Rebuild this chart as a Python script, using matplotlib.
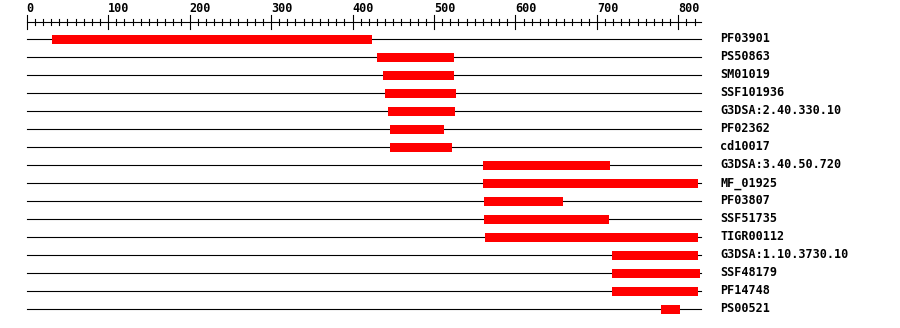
import matplotlib.pyplot as plt

# protein length and domain hits (residue positions)
seq_len = 828
names = ['PF03901', 'PS50863', 'SM01019', 'SSF101936', 'G3DSA:2.40.330.10',
         'PF02362', 'cd10017', 'G3DSA:3.40.50.720', 'MF_01925', 'PF03807',
         'SSF51735', 'TIGR00112', 'G3DSA:1.10.3730.10', 'SSF48179', 'PF14748',
         'PS00521']
starts = [31, 430, 437, 440, 444, 446, 446, 560, 560, 561, 561, 563, 719, 719, 719, 779]
ends = [424, 525, 525, 527, 526, 512, 522, 716, 824, 658, 715, 824, 824, 827, 824, 802]
major_ticks = list(range(0, 801, 100))
minor_ticks = list(range(0, 821, 10))

W, H = 900, 328
x0 = 26.7      # pixel of residue 0
scale = 0.8145  # pixels per residue

fig = plt.figure(figsize=(W / 100, H / 100), dpi=100)
ax = fig.add_axes([0, 0, 1, 1])
ax.set_xlim(-x0 / scale, (W - x0) / scale)
ax.set_ylim(H, 0)
ax.axis('off')

font = dict(family='DejaVu Sans Mono', fontweight='bold', fontsize=8.5)

# ruler
ax.plot([0, seq_len], [22, 22], color='black', lw=0.8)
for t in minor_ticks:
    if t in major_ticks:
        ax.plot([t, t], [15, 29], color='black', lw=0.8)
    else:
        ax.plot([t, t], [19, 25], color='black', lw=0.8)
for t in major_ticks:
    ax.text(t, 12, str(t), ha='left', va='baseline', **font)

# rows
row_y0 = 39
row_step = 18
label_x = (720 - x0) / scale
for i, (nm, s, e) in enumerate(zip(names, starts, ends)):
    y = row_y0 + i * row_step
    ax.plot([0, seq_len], [y, y], color='black', lw=0.8, zorder=1)
    ax.barh(y, e - s, left=s, height=9, color='#ff0000', zorder=2)
    ax.text(label_x, y, nm, ha='left', va='center', **font)

fig.savefig('out.png', dpi=100)
